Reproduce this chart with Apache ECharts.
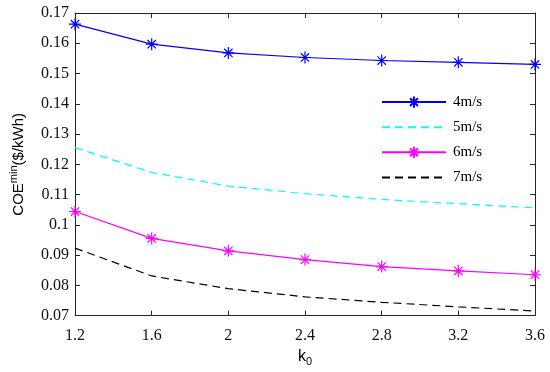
<!DOCTYPE html>
<html>
<head>
<meta charset="utf-8">
<script src="https://cdn.jsdelivr.net/npm/echarts@6/dist/echarts.min.js"></script>
<style>html,body{margin:0;padding:0;background:#fff}#c{width:550px;height:372px}</style>
</head>
<body>
<div id="c"></div>
<script>
const k0 = [1.2, 1.6, 2.0, 2.4, 2.8, 3.2, 3.6];
const v4 = [0.1663, 0.1597, 0.1568, 0.1553, 0.1543, 0.1537, 0.1530];
const v5 = [0.1255, 0.1173, 0.1128, 0.1103, 0.1084, 0.1070, 0.1056];
const v6 = [0.1044, 0.0955, 0.0914, 0.0885, 0.0862, 0.0848, 0.0835];
const v7 = [0.0923, 0.0831, 0.0789, 0.0762, 0.0744, 0.0729, 0.0715];
const xTicks = [1.2, 1.6, 2, 2.4, 2.8, 3.2, 3.6];
const yTicks = [0.07, 0.08, 0.09, 0.1, 0.11, 0.12, 0.13, 0.14, 0.15, 0.16, 0.17];
const names = ['4m/s', '5m/s', '6m/s', '7m/s'];

const star = 'path://M0,-10L0,10M-10,0L10,0M-7,-7L7,7M-7,7L7,-7';
const pair = v => k0.map((x, i) => [x, v[i]]);
const axisCol = '#262626';
const serif = 'Liberation Serif';

const chart = echarts.init(document.getElementById('c'));
const xBase = {
  type: 'value', min: xTicks[0], max: xTicks[xTicks.length - 1], interval: 0.4,
  axisLine: {lineStyle: {color: axisCol, width: 1}},
  axisTick: {inside: true, length: 5, lineStyle: {color: axisCol}},
  splitLine: {show: false}
};
const yBase = {
  type: 'value', min: yTicks[0], max: yTicks[yTicks.length - 1], interval: 0.01,
  axisLine: {lineStyle: {color: axisCol, width: 1}},
  axisTick: {inside: true, length: 5, lineStyle: {color: axisCol}},
  splitLine: {show: false}
};
chart.setOption({
  animation: false,
  grid: {left: 69, right: 15, top: 13, bottom: 53, containLabel: false},
  xAxis: [
    Object.assign({}, xBase, {
      position: 'bottom',
      axisLabel: {color: '#111', fontFamily: serif, fontSize: 16, margin: 12,
        formatter: v => String(+v.toFixed(1))},
      name: '{k|k}{s|0}', nameLocation: 'middle', nameGap: 27,
      nameTextStyle: {rich: {
        k: {fontFamily: 'Liberation Sans', fontSize: 16, color: '#000'},
        s: {fontFamily: 'Liberation Sans', fontSize: 11, color: '#000', padding: [10, 0, 0, 0]}
      }}
    }),
    Object.assign({}, xBase, {position: 'top', axisLabel: {show: false}})
  ],
  yAxis: [
    Object.assign({}, yBase, {
      position: 'left',
      axisLabel: {color: '#111', fontFamily: serif, fontSize: 16, margin: 6,
        formatter: v => String(+v.toFixed(2))},
      name: '{a|COE}{b|min}{a|($/kWh)}', nameLocation: 'middle', nameGap: 46,
      nameTextStyle: {rich: {
        a: {fontFamily: 'Liberation Sans', fontSize: 15, color: '#000'},
        b: {fontFamily: 'Liberation Sans', fontSize: 11, color: '#000', padding: [0, 0, 10, 0]}
      }}
    }),
    Object.assign({}, yBase, {position: 'right', axisLabel: {show: false}})
  ],
  legend: {
    orient: 'vertical', left: 376, top: 89, itemWidth: 64, itemHeight: 14, itemGap: 9.5,
    textStyle: {fontFamily: serif, fontSize: 15, lineHeight: 14, color: '#000', padding: [0, 0, 0, 2]},
    data: [
      {name: names[0]},
      {name: names[1], itemStyle: {opacity: 0}},
      {name: names[2]},
      {name: names[3], itemStyle: {opacity: 0}}
    ]
  },
  series: [
    {name: names[0], type: 'line', data: pair(v4), symbol: star, symbolSize: 12,
      lineStyle: {color: '#0000ff', width: 1.2},
      itemStyle: {color: 'none', borderColor: '#0000ff', borderWidth: 1.2}},
    {name: names[1], type: 'line', data: pair(v5), symbol: 'none',
      lineStyle: {color: '#00ffff', width: 1.2, type: [8, 5]}, itemStyle: {color: '#00ffff'}},
    {name: names[2], type: 'line', data: pair(v6), symbol: star, symbolSize: 12,
      lineStyle: {color: '#ff00ff', width: 1.2},
      itemStyle: {color: 'none', borderColor: '#ff00ff', borderWidth: 1.2}},
    {name: names[3], type: 'line', data: pair(v7), symbol: 'none',
      lineStyle: {color: '#000', width: 1.2, type: [8, 5]}, itemStyle: {color: '#000'}}
  ]
});
</script>
</body>
</html>
